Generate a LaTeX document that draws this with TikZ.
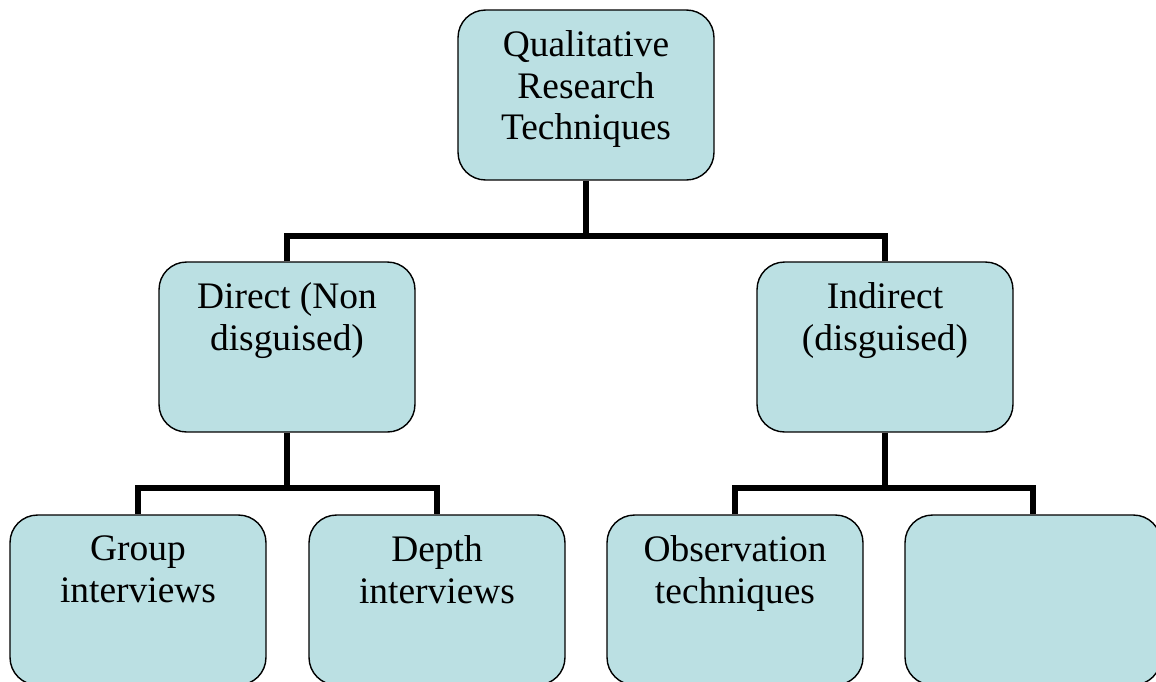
\documentclass[tikz,border=0pt]{standalone}
\usepackage{fontspec}
\setmainfont{Liberation Serif}
\usetikzlibrary{calc}

\definecolor{boxfill}{RGB}{187,224,227}
\newcommand{\boxtext}[1]{\parbox[c][3.4cm][t]{5.12cm}{\centering\vspace*{0.42cm}#1}}

\begin{document}
\begin{tikzpicture}[x=0.02cm, y=-0.02cm,
    box/.style={draw, line width=0.8pt, fill=boxfill, rounded corners=0.55cm,
      inner sep=0pt, minimum width=5.12cm, minimum height=3.4cm,
      font=\fontsize{21.3}{23.6}\selectfont},
    link/.style={line width=3.4pt}]
      \useasboundingbox (0,0) rectangle (1156,681);

      \node[box] (top) at (586,95) {\boxtext{Qualitative\\Research\\Techniques}};
      \node[box] (direct) at (287,347) {\boxtext{Direct (Non\\disguised)}};
      \node[box] (indirect) at (885,347) {\boxtext{Indirect\\(disguised)}};
      \node[box] (group) at (138,600) {\boxtext{Group\\interviews}};
      \node[box] (depth) at (437,600) {\boxtext{Depth\\interviews}};
      \node[box] (obs) at (735,600) {\boxtext{Observation\\techniques}};
      \node[box] (blank) at (1033,600) {\boxtext{\mbox{}}};

      \coordinate (j1) at (586,236);
      \coordinate (j2) at (287,488);
      \coordinate (j3) at (885,488);

      \draw[link] (top) -- (j1);
      \draw[link] (direct.north) |- (j1) -| (indirect.north);
      \draw[link] (direct) -- (j2);
      \draw[link] (group.north) |- (j2) -| (depth.north);
      \draw[link] (indirect) -- (j3);
      \draw[link] (obs.north) |- (j3) -| (blank.north);
    \end{tikzpicture}
\end{document}
